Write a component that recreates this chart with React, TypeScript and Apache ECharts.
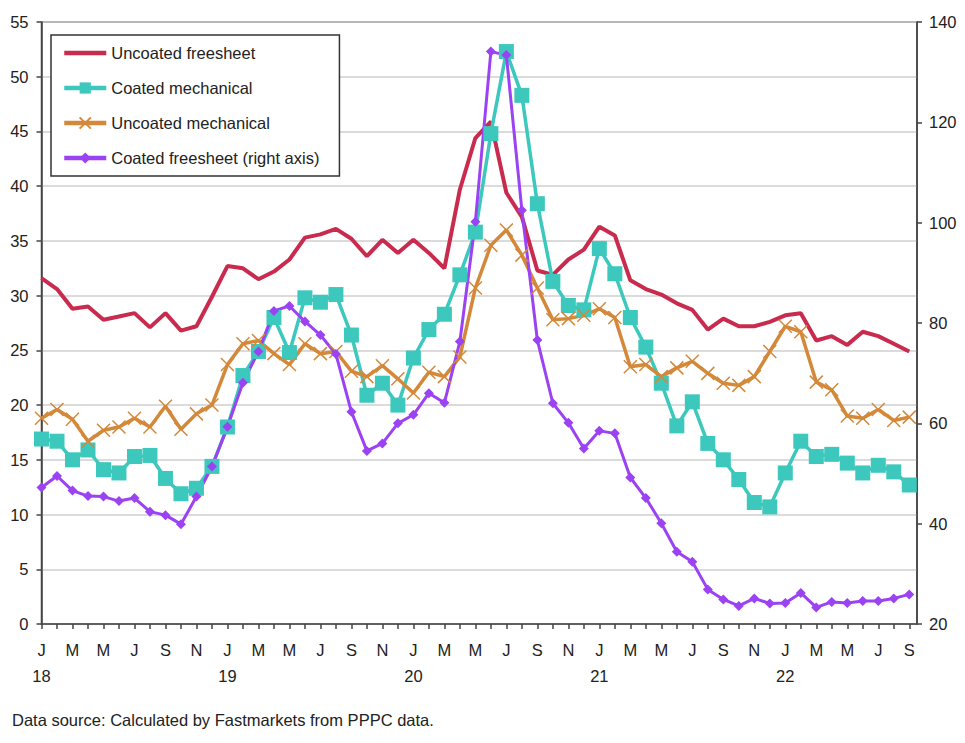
import React, { useEffect, useRef } from "react";
import * as echarts from "echarts";

const monthLetters = ["J", "F", "M", "A", "M", "J", "J", "A", "S", "O", "N", "D"];
const startYear = 18;

const uncoatedFreesheet = [
  31.6, 30.6, 28.8, 29.0, 27.8, 28.1, 28.4, 27.1, 28.4, 26.8, 27.2, 29.9,
  32.7, 32.5, 31.5, 32.2, 33.3, 35.3, 35.6, 36.1, 35.2, 33.6, 35.1, 33.9,
  35.1, 33.9, 32.5, 39.7, 44.4, 45.9, 39.4, 37.2, 32.3, 31.9, 33.3, 34.2,
  36.3, 35.5, 31.4, 30.6, 30.1, 29.3, 28.7, 26.9, 27.9, 27.2, 27.2, 27.6,
  28.2, 28.4, 25.9, 26.3, 25.5, 26.7, 26.3, 25.6, 24.9,
];
const coatedMechanical = [
  16.9, 16.7, 15.0, 15.9, 14.1, 13.8, 15.3, 15.4, 13.3, 11.9, 12.4, 14.4,
  18.0, 22.7, 24.9, 28.0, 24.8, 29.8, 29.4, 30.1, 26.4, 20.9, 22.0, 20.0,
  24.3, 26.9, 28.3, 31.9, 35.8, 44.8, 52.3, 48.3, 38.4, 31.3, 29.1, 28.7,
  34.3, 32.0, 28.0, 25.3, 22.0, 18.1, 20.3, 16.5, 15.0, 13.2, 11.1, 10.7,
  13.8, 16.7, 15.3, 15.5, 14.7, 13.8, 14.5, 13.9, 12.7,
];
const uncoatedMechanical = [
  18.8, 19.6, 18.7, 16.7, 17.7, 18.0, 18.8, 18.0, 19.9, 17.8, 19.2, 20.0,
  23.7, 25.6, 25.9, 24.7, 23.7, 25.6, 24.7, 24.9, 23.1, 22.6, 23.6, 22.4,
  21.1, 23.0, 22.6, 24.4, 30.7, 34.6, 36.0, 33.7, 30.7, 27.8, 27.9, 28.2,
  28.8, 28.0, 23.5, 23.7, 22.6, 23.4, 24.0, 22.9, 22.0, 21.8, 22.6, 24.9,
  27.2, 26.7, 22.1, 21.4, 19.0, 18.8, 19.6, 18.6, 18.9,
];
const coatedFreesheet = [
  47.2, 49.5, 46.6, 45.5, 45.4, 44.5, 45.1, 42.4, 41.7, 39.9, 45.4, 51.4,
  59.3, 68.1, 74.3, 82.4, 83.4, 80.3, 77.6, 73.8, 62.3, 54.5, 56.0, 60.0,
  61.7, 66.0, 64.1, 76.3, 100.2, 134.1, 133.4, 102.5, 76.6, 64.0, 60.1, 55.0,
  58.5, 58.0, 49.2, 45.1, 40.1, 34.4, 32.4, 26.9, 24.9, 23.6, 25.1, 24.1,
  24.2, 26.2, 23.3, 24.4, 24.2, 24.6, 24.6, 25.1, 25.9,
];

const seriesNames = [
  "Uncoated freesheet",
  "Coated mechanical",
  "Uncoated mechanical",
  "Coated freesheet (right axis)",
];
const footnote = "Data source: Calculated by Fastmarkets from PPPC data.";

const FONT = "'Liberation Sans', Arial, sans-serif";
const FS = 16.5;
const TEXT = "#222222";
const RED = "#C92B4E";

const toPairs = (arr: number[]) => arr.map((v, i) => [i, v]);

export default function App() {
  const ref = useRef<HTMLDivElement>(null);
  useEffect(() => {
    document.body.style.margin = "0";
    if (!ref.current) return;
    const chart = echarts.init(ref.current, null, { renderer: "svg" });
    const option = {
      animation: false,
      backgroundColor: "#ffffff",
      textStyle: { fontFamily: FONT },
      grid: {
        left: 41.5,
        right: 48,
        top: 22,
        bottom: 119,
        show: true,
        borderColor: "#444",
        borderWidth: 1.5,
        backgroundColor: "transparent",
      },
      legend: {
        orient: "vertical",
        left: 51,
        top: 35,
        padding: [8, 20, 8, 11],
        itemWidth: 42,
        itemHeight: 14,
        itemGap: 15,
        borderColor: "#333",
        borderWidth: 1.5,
        backgroundColor: "#ffffff",
        lineStyle: { width: 4.5 },
        textStyle: { fontFamily: FONT, fontSize: FS, color: TEXT, lineHeight: 20 },
        data: [
          {
            name: seriesNames[0],
            icon: "path://M0,0L0,0ZM0,4.75L42,4.75L42,9.25L0,9.25ZM42,14L42,14Z",
            itemStyle: { color: RED },
          },
          seriesNames[1],
          seriesNames[2],
          seriesNames[3],
        ],
      },
      xAxis: {
        type: "value",
        min: 0,
        max: 56.5,
        interval: 1,
        splitLine: { show: false },
        axisLine: { lineStyle: { color: "#444", width: 1.5 } },
        axisTick: { show: true, length: 5, lineStyle: { color: "#444", width: 1.5 } },
        axisLabel: {
          showMaxLabel: false,
          margin: 13,
          fontFamily: FONT,
          fontSize: FS,
          lineHeight: 26,
          color: TEXT,
          formatter: (v: number) => {
            if (!Number.isInteger(v) || v % 2 !== 0) return "";
            const m = v % 12;
            const letter = monthLetters[m];
            if (m === 0) return letter + "\n" + (startYear + v / 12);
            return letter;
          },
        },
      },
      yAxis: [
        {
          type: "value",
          min: 0,
          max: 55,
          interval: 5,
          position: "left",
          axisLine: { show: true, lineStyle: { color: "#444", width: 1.5 } },
          axisTick: { show: true, length: 5, lineStyle: { color: "#444", width: 1.5 } },
          splitLine: { show: true, lineStyle: { color: "#cfcfcf", width: 1.5 } },
          axisLabel: { margin: 13, fontFamily: FONT, fontSize: FS, color: TEXT },
        },
        {
          type: "value",
          min: 20,
          max: 140,
          interval: 20,
          position: "right",
          axisLine: { show: true, lineStyle: { color: "#444", width: 1.5 } },
          axisTick: { show: true, length: 5, lineStyle: { color: "#444", width: 1.5 } },
          splitLine: { show: false },
          axisLabel: { margin: 12, fontFamily: FONT, fontSize: FS, color: TEXT },
        },
      ],
      series: [
        {
          name: seriesNames[0],
          type: "line",
          yAxisIndex: 0,
          data: toPairs(uncoatedFreesheet),
          symbol: "none",
          lineStyle: { color: RED, width: 4 },
          itemStyle: { color: RED },
        },
        {
          name: seriesNames[1],
          type: "line",
          yAxisIndex: 0,
          data: toPairs(coatedMechanical),
          symbol: "rect",
          symbolSize: 15,
          lineStyle: { color: "#3CC8BC", width: 3.5 },
          itemStyle: { color: "#3CC8BC", borderWidth: 0 },
        },
        {
          name: seriesNames[2],
          type: "line",
          yAxisIndex: 0,
          data: toPairs(uncoatedMechanical),
          symbol: "path://M0,0L10,10M10,0L0,10",
          symbolSize: 13,
          lineStyle: { color: "#D4883A", width: 3.5 },
          itemStyle: { color: "#D4883A", borderColor: "#D4883A", borderWidth: 1.5 },
        },
        {
          name: seriesNames[3],
          type: "line",
          yAxisIndex: 1,
          data: toPairs(coatedFreesheet),
          symbol: "diamond",
          symbolSize: 10,
          lineStyle: { color: "#9B42F3", width: 3 },
          itemStyle: { color: "#9B42F3", borderWidth: 0 },
        },
      ],
      graphic: [
        {
          type: "text",
          left: 12,
          top: 711,
          style: { text: footnote, font: FS + "px " + FONT, fill: TEXT },
        },
      ],
    };
    chart.setOption(option as any);
    return () => chart.dispose();
  }, []);
  return <div ref={ref} style={{ width: 965, height: 743 }} />;
}
